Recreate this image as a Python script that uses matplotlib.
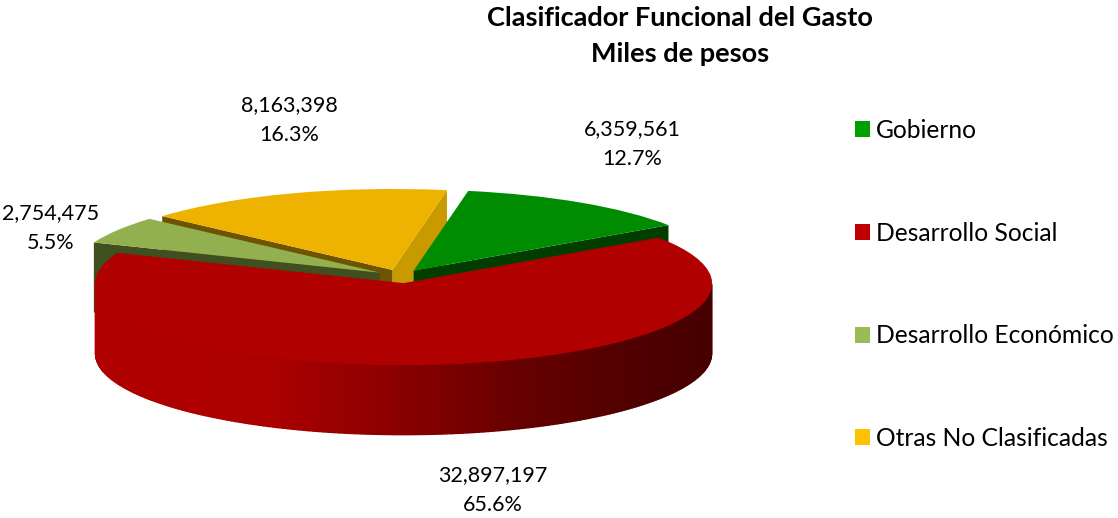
import matplotlib
matplotlib.use("Agg")
import matplotlib.pyplot as plt
from matplotlib.patches import Patch
import numpy as np

categories = ["Gobierno", "Desarrollo Social", "Desarrollo Económico", "Otras No Clasificadas"]
values = [6359561, 32897197, 2754475, 8163398]
explode = [0.079, 0.095, 0.079, 0.079]
top_colors = ["#008c00", "#b00000", "#93b050", "#eeb200"]
legend_colors = ["#00a000", "#c00000", "#9bbb59", "#ffc000"]

plt.rcParams["font.family"] = ["Lato", "DejaVu Sans"]

W, H = 1118, 518
# pie centre and ellipse radii, pixels
cx, cy, rx, ry = 400.4, 276, 308, 81
depth = 70 / ry

fig = plt.figure(figsize=(W / 100, H / 100), dpi=100)
ax = fig.add_axes([0, 0, 1, 1])

wedges, _ = ax.pie(values, explode=explode, colors=top_colors, startangle=79.8,
                   counterclock=False, radius=1, frame=True)
ax.set_aspect("auto")
ax.set_xlim(-cx / rx, (W - cx) / rx)
ax.set_ylim((cy - H) / ry, cy / ry)
ax.axis("off")


def rim(wedge, theta):
    a = np.radians(theta)
    return wedge.center[0] + np.cos(a), wedge.center[1] + np.sin(a)


def cut_face(wedge, theta, color, z):
    # the flat side of an exploded slice, pushed down by depth
    x0, y0 = wedge.center
    x1, y1 = rim(wedge, theta)
    ax.fill([x0, x1, x1, x0], [y0, y1, y1 - depth, y0 - depth],
            color=color, lw=0, zorder=z)


green, red, olive, yellow = wedges

cut_face(yellow, yellow.theta1, "#c89a00", 1)
cut_face(yellow, yellow.theta2, "#6e5400", 2)
cut_face(olive, olive.theta2, "#404f20", 3)
olive.set_zorder(4)
yellow.set_zorder(5)
cut_face(green, green.theta1, "#003e00", 6)
green.set_zorder(7)

# outer wall of the red slice, shaded left to right
shade_x = [-1.0, -0.45, 0.0, 0.35, 0.7, 1.0]
shade_r = [176, 172, 136, 104, 82, 70]
for t in np.arange(-180, 0, 1.0):
    x1, y1 = rim(red, t)
    x2, y2 = rim(red, t + 1.0)
    r = np.interp(np.cos(np.radians(t)), shade_x, shade_r) / 255
    ax.fill([x1, x2, x2, x1], [y1, y2, y2 - depth, y1 - depth],
            facecolor=(r, 0, 0), edgecolor=(r, 0, 0), lw=1.0, zorder=8)
red.set_zorder(9)
red.set_edgecolor("#b00000")
red.set_linewidth(0.8)

for w in (green, olive, yellow):
    w.set_linewidth(0)

title_font = {"fontsize": 19.5, "fontweight": "bold", "ha": "center", "va": "center", "color": "#000000"}
fig.text(680 / W, 1 - 18 / H, "Clasificador Funcional del Gasto", **title_font)
fig.text(680 / W, 1 - 54 / H, "Miles de pesos", **title_font)

total = sum(values)
label_x = [632, 493, 51, 289]
label_y = [144, 490, 228, 120]
for v, lx, ly in zip(values, label_x, label_y):
    fig.text(lx / W, 1 - ly / H, f"{v:,}\n{100 * v / total:.1f}%", fontsize=15.5,
             ha="center", va="center", linespacing=1.6, color="#000000", zorder=20)

handles = [Patch(facecolor=c, edgecolor="none") for c in legend_colors]
fs = 17.7
fs_px = fs * 100 / 72
ax.legend(handles, categories, fontsize=fs, frameon=False, loc="upper left",
          bbox_to_anchor=(855 / W, 1 - 119 / H), bbox_transform=fig.transFigure,
          borderaxespad=0, borderpad=0, handlelength=15 / fs_px, handleheight=15 / fs_px,
          handletextpad=6 / fs_px, labelspacing=(103 - 0.95 * fs_px) / fs_px,
          labelcolor="#000000")

fig.savefig("out.png", dpi=100)
